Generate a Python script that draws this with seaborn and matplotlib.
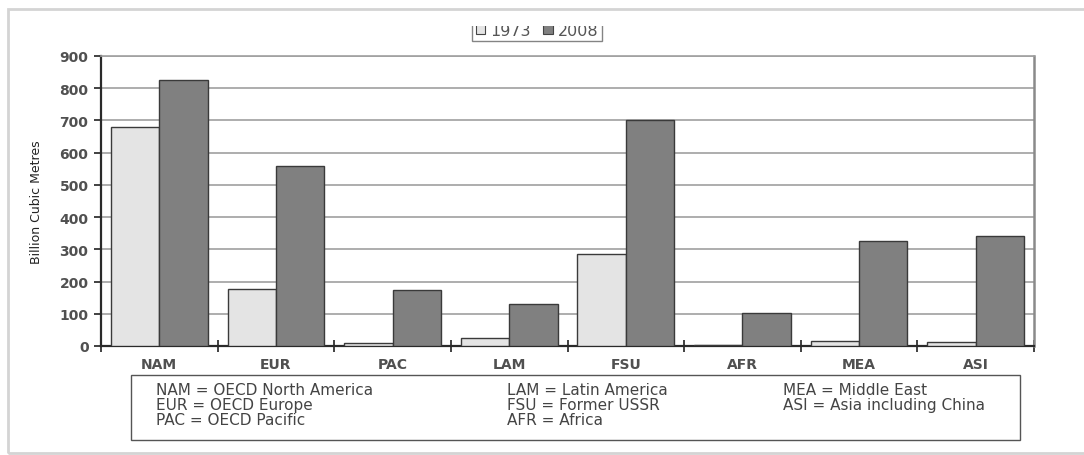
import seaborn as sns
import matplotlib.pyplot as plt
import pandas as pd
from matplotlib.patches import Rectangle, Patch

regions = ['NAM', 'EUR', 'PAC', 'LAM', 'FSU', 'AFR', 'MEA', 'ASI']
years = ['1973', '2008']
prod_1973 = [680, 177, 8, 24, 286, 2, 15, 13]
prod_2008 = [826, 559, 175, 131, 700, 101, 327, 340]
key_lines = [
    ['NAM = OECD North America', 'EUR = OECD Europe', 'PAC = OECD Pacific'],
    ['LAM = Latin America', 'FSU = Former USSR', 'AFR = Africa'],
    ['MEA = Middle East', 'ASI = Asia including China'],
]
year_colors = ['#e4e4e4', '#808080']

# Long table for seaborn
df = pd.DataFrame({
    'Region': regions * 2,
    'Year': [years[0]] * len(regions) + [years[1]] * len(regions),
    'Value': prod_1973 + prod_2008,
})

sns.set_style('white')
plt.rcParams['font.family'] = ['DejaVu Sans']

fig = plt.figure(figsize=(10.84, 4.56), dpi=100)
ax = fig.add_axes([101 / 1084, 1 - 347 / 456, 933 / 1084, 290 / 456])

sns.barplot(data=df, x='Region', y='Value', hue='Year', order=regions, hue_order=years,
            palette=year_colors, width=0.83, edgecolor='#3a3a3a', linewidth=1.0,
            legend=False, ax=ax, zorder=3)

ax.set_xlim(-0.5, len(regions) - 0.5)
ax.set_ylim(0, 900)
ax.set_yticks(range(0, 901, 100))
ax.yaxis.grid(True, color='#a0a0a0', linewidth=1.2, zorder=0)
ax.set_axisbelow(True)
ax.set_xlabel('')
ax.set_ylabel('Billion Cubic Metres', family='DejaVu Sans Condensed', fontsize=9,
              color='#222222', labelpad=12)

# tick marks at category boundaries, labels at centres
ax.set_xticks([i - 0.5 for i in range(len(regions) + 1)], minor=True)
ax.tick_params(axis='x', which='major', bottom=True, length=0, pad=8, labelsize=10,
               labelcolor='#505050')
ax.tick_params(axis='x', which='minor', bottom=True, direction='inout', length=9,
               color='#333333', width=1.3)
ax.tick_params(axis='y', left=True, direction='out', length=5, color='#333333', width=1.3,
               labelsize=10, labelcolor='#505050', pad=4)
for lab in ax.get_xticklabels() + ax.get_yticklabels():
    lab.set_fontweight('bold')

for side in ['left', 'bottom']:
    ax.spines[side].set_color('#2a2a2a')
    ax.spines[side].set_linewidth(1.6)
ax.spines['right'].set_color('#8a8a8a')
ax.spines['right'].set_linewidth(1.8)
ax.spines['top'].set_color('#a0a0a0')
ax.spines['top'].set_linewidth(1.2)

# year legend at the top (partly hidden by the page edge)
handles = [Patch(facecolor=c, edgecolor='#444444', linewidth=0.8) for c in year_colors]
fig.legend(handles, years, loc='center', bbox_to_anchor=(537 / 1084, 1 - 31 / 456), ncol=2,
           frameon=True, fancybox=False, edgecolor='#666666', fontsize=11.5,
           handlelength=0.6, handleheight=0.6, handletextpad=0.3, columnspacing=0.8,
           borderpad=0.25, labelcolor='#555555')
fig.patches.append(Rectangle((0, 1 - 27 / 456), 1, 17 / 456, transform=fig.transFigure,
                             facecolor='white', edgecolor='none', zorder=10))

# region key box below the chart
fig.patches.append(Rectangle((131 / 1084, 1 - 441 / 456), 889 / 1084, 65 / 456,
                             transform=fig.transFigure, facecolor='white',
                             edgecolor='#555555', linewidth=1.0, zorder=5))
col_x = [156, 507, 783]
row_y = [391, 406, 421]
for cx, lines in zip(col_x, key_lines):
    for ry, txt in zip(row_y, lines):
        fig.text(cx / 1084, 1 - ry / 456, txt, fontsize=11, color='#444444',
                 va='center', ha='left', zorder=6)

# page frame
fig.patches.append(Rectangle((8 / 1084, 1 - 454 / 456), 1080 / 1084, 444 / 456,
                             transform=fig.transFigure, facecolor='none',
                             edgecolor='#d4d4d4', linewidth=2.0, zorder=11))

plt.savefig('out.png', dpi=100)
plt.close()
